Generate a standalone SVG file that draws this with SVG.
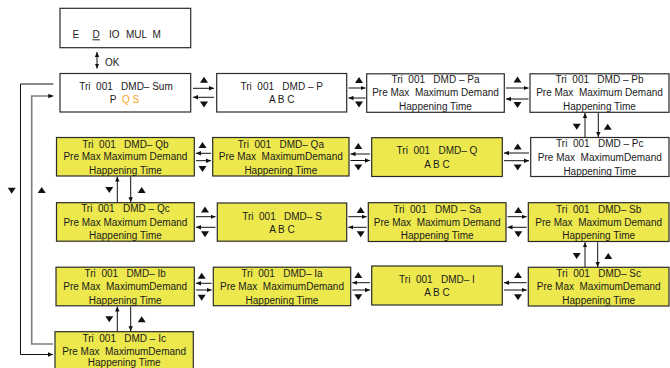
<svg xmlns="http://www.w3.org/2000/svg" width="670" height="368" viewBox="0 0 670 368">
<style>
.box{stroke:#2b2b2b;stroke-width:1.2}
.w{fill:#ffffff}
.y{fill:#ECE84E}
text{font-family:"Liberation Sans",Arial,sans-serif;font-size:10px;fill:#1a1a1a;text-anchor:middle}
.st{text-anchor:start}
.c line,.c polyline{stroke:#111;stroke-width:1;fill:none}
.c .g{stroke:#7d7d7d;stroke-width:1.6}
.tri{fill:#111}
</style>
<defs>
<path id="up" d="M-4,3 L4,3 L0,-3 Z"/>
<path id="dn" d="M-4,-3 L4,-3 L0,3 Z"/>
<marker id="ah" viewBox="0 0 8 8" refX="8" refY="4" markerWidth="5" markerHeight="5" orient="auto" markerUnits="userSpaceOnUse"><path d="M0,0.5 L8,4 L0,7.5 Z" fill="#111"/></marker>
<marker id="as" viewBox="0 0 8 8" refX="0" refY="4" markerWidth="5" markerHeight="5" orient="auto" markerUnits="userSpaceOnUse"><path d="M8,0.5 L0,4 L8,7.5 Z" fill="#111"/></marker>
</defs>

<g id="node-menu">
<rect class="box w" x="60" y="8.3" width="130.7" height="39.4"/>
<text class="st" x="72.5" y="38.3">E</text>
<text class="st" x="92.5" y="38.3" style="text-decoration:underline">D</text>
<text class="st" x="109" y="38.3">IO</text>
<text class="st" x="126" y="38.3">MUL</text>
<text class="st" x="152.5" y="38.3">M</text>
</g>
<text class="st" x="105" y="65.5">OK</text>

<g id="node-sum">
<rect class="box w" x="60" y="73.5" width="130.7" height="38.5"/>
<text x="126" y="89.8" xml:space="preserve">Tri  001   DMD– Sum</text>
<text x="124.5" y="103" xml:space="preserve">P  <tspan fill="#F5A623">Q S</tspan></text>
</g>
<g id="node-p">
<rect class="box w" x="216.7" y="73.5" width="130" height="38.5"/>
<text x="281.7" y="89.8" xml:space="preserve">Tri  001   DMD – P</text>
<text x="281.7" y="102.5">A B C</text>
</g>
<g id="node-pa">
<rect class="box w" x="366.7" y="73.8" width="137.6" height="38.5"/>
<text x="435.5" y="83.3" xml:space="preserve">Tri  001   DMD – Pa</text>
<text x="435.5" y="96.3" xml:space="preserve">Pre Max  Maximum Demand</text>
<text x="435.5" y="109.8">Happening Time</text>
</g>
<g id="node-pb">
<rect class="box w" x="530" y="73.8" width="139" height="38.5"/>
<text x="599.5" y="83.3" xml:space="preserve">Tri  001   DMD – Pb</text>
<text x="599.5" y="96.3" xml:space="preserve">Pre Max  Maximum Demand</text>
<text x="599.5" y="109.8">Happening Time</text>
</g>

<g id="node-qb">
<rect class="box y" x="56.5" y="137.5" width="137.8" height="38.5"/>
<text x="125.4" y="147.5" xml:space="preserve">Tri  001   DMD– Qb</text>
<text x="125.4" y="160.3" xml:space="preserve">Pre Max Maximum Demand</text>
<text x="125.4" y="173.5">Happening Time</text>
</g>
<g id="node-qa">
<rect class="box y" x="212.7" y="137.5" width="136.3" height="38.5"/>
<text x="280.8" y="147.5" xml:space="preserve">Tri  001   DMD– Qa</text>
<text x="280.8" y="160.3" xml:space="preserve">Pre Max  MaximumDemand</text>
<text x="280.8" y="173.5">Happening Time</text>
</g>
<g id="node-q">
<rect class="box y" x="371.7" y="137.7" width="130.6" height="38.8"/>
<text x="437" y="154" xml:space="preserve">Tri  001   DMD– Q</text>
<text x="437" y="167.5">A B C</text>
</g>
<g id="node-pc">
<rect class="box w" x="530.7" y="137.5" width="138.3" height="39"/>
<text x="599.8" y="147.3" xml:space="preserve">Tri  001   DMD – Pc</text>
<text x="599.8" y="160.8" xml:space="preserve">Pre Max  MaximumDemand</text>
<text x="599.8" y="174.8">Happening Time</text>
</g>

<g id="node-qc">
<rect class="box y" x="56.5" y="202.7" width="137.8" height="38.5"/>
<text x="125.4" y="212.2" xml:space="preserve">Tri  001   DMD – Qc</text>
<text x="125.4" y="225.5" xml:space="preserve">Pre Max Maximum Demand</text>
<text x="125.4" y="239">Happening Time</text>
</g>
<g id="node-s">
<rect class="box y" x="217.3" y="203" width="129.4" height="38.2"/>
<text x="282" y="219.5" xml:space="preserve">Tri  001   DMD– S</text>
<text x="282" y="232.5">A B C</text>
</g>
<g id="node-sa">
<rect class="box y" x="368.3" y="202.7" width="137.7" height="38.8"/>
<text x="437.2" y="212.5" xml:space="preserve">Tri  001   DMD – Sa</text>
<text x="437.2" y="225.8" xml:space="preserve">Pre Max  Maximum Demand</text>
<text x="437.2" y="239.3">Happening Time</text>
</g>
<g id="node-sb">
<rect class="box y" x="528.3" y="202.7" width="140.7" height="38.8"/>
<text x="598.7" y="212.5" xml:space="preserve">Tri  001   DMD– Sb</text>
<text x="598.7" y="225.8" xml:space="preserve">Pre Max  Maximum Demand</text>
<text x="598.7" y="239.3">Happening Time</text>
</g>

<g id="node-ib">
<rect class="box y" x="56" y="267.2" width="138.3" height="38.6"/>
<text x="125.2" y="276.8" xml:space="preserve">Tri  001   DMD– Ib</text>
<text x="125.2" y="290" xml:space="preserve">Pre Max  MaximumDemand</text>
<text x="125.2" y="303.5">Happening Time</text>
</g>
<g id="node-ia">
<rect class="box y" x="213.3" y="267.2" width="137.4" height="38.5"/>
<text x="282" y="276.8" xml:space="preserve">Tri  001   DMD– Ia</text>
<text x="282" y="290" xml:space="preserve">Pre Max  MaximumDemand</text>
<text x="282" y="303.5">Happening Time</text>
</g>
<g id="node-i">
<rect class="box y" x="371.7" y="266" width="130.6" height="39"/>
<text x="437" y="282.5" xml:space="preserve">Tri  001   DMD– I</text>
<text x="437" y="295.8">A B C</text>
</g>
<g id="node-sc">
<rect class="box y" x="528.3" y="267.3" width="140.7" height="38.7"/>
<text x="598.7" y="276.8" xml:space="preserve">Tri  001   DMD– Sc</text>
<text x="598.7" y="290.3" xml:space="preserve">Pre Max  MaximumDemand</text>
<text x="598.7" y="303.8">Happening Time</text>
</g>

<g id="node-ic">
<rect class="box y" x="55" y="331.7" width="138.3" height="39"/>
<text x="124.2" y="341.8" xml:space="preserve">Tri  001   DMD – Ic</text>
<text x="124.2" y="354.5" xml:space="preserve">Pre Max  MaximumDemand</text>
<text x="124.2" y="366">Happening Time</text>
</g>

<g id="connectors" class="c">
<line x1="97" y1="52" x2="97" y2="68.5" marker-start="url(#as)" marker-end="url(#ah)"/>

<line x1="193" y1="88.3" x2="214" y2="88.3" marker-end="url(#ah)"/>
<line x1="214" y1="97.3" x2="193" y2="97.3" marker-end="url(#ah)"/>
<line x1="348.5" y1="88" x2="365.5" y2="88" marker-end="url(#ah)"/>
<line x1="365.5" y1="98" x2="348.5" y2="98" marker-end="url(#ah)"/>
<line x1="506" y1="88" x2="528.5" y2="88" marker-end="url(#ah)"/>
<line x1="528.5" y1="99" x2="506" y2="99" marker-end="url(#ah)"/>

<line x1="211" y1="153.3" x2="196" y2="153.3" marker-end="url(#ah)"/>
<line x1="196" y1="160.7" x2="211" y2="160.7" marker-end="url(#ah)"/>
<line x1="370" y1="154" x2="350.5" y2="154" marker-end="url(#ah)"/>
<line x1="350.5" y1="160.5" x2="370" y2="160.5" marker-end="url(#ah)"/>
<line x1="529" y1="153" x2="504" y2="153" marker-end="url(#ah)"/>
<line x1="504" y1="160.7" x2="529" y2="160.7" marker-end="url(#ah)"/>

<line x1="196" y1="216.7" x2="215.5" y2="216.7" marker-end="url(#ah)"/>
<line x1="215.5" y1="227.3" x2="196" y2="227.3" marker-end="url(#ah)"/>
<line x1="348.3" y1="216.7" x2="366.7" y2="216.7" marker-end="url(#ah)"/>
<line x1="366.7" y1="227.3" x2="348.3" y2="227.3" marker-end="url(#ah)"/>
<line x1="507.5" y1="216.7" x2="526.7" y2="216.7" marker-end="url(#ah)"/>
<line x1="526.7" y1="227.3" x2="507.5" y2="227.3" marker-end="url(#ah)"/>

<line x1="211.7" y1="283.3" x2="196" y2="283.3" marker-end="url(#ah)"/>
<line x1="196" y1="290" x2="211.7" y2="290" marker-end="url(#ah)"/>
<line x1="370" y1="282.7" x2="352.3" y2="282.7" marker-end="url(#ah)"/>
<line x1="352.3" y1="290" x2="370" y2="290" marker-end="url(#ah)"/>
<line x1="526.7" y1="282.7" x2="504" y2="282.7" marker-end="url(#ah)"/>
<line x1="504" y1="290" x2="526.7" y2="290" marker-end="url(#ah)"/>

<line x1="585" y1="137" x2="585" y2="113" marker-end="url(#ah)"/>
<line x1="598.3" y1="113" x2="598.3" y2="137" marker-end="url(#ah)"/>
<line x1="117.3" y1="202.2" x2="117.3" y2="176.5" marker-end="url(#ah)"/>
<line x1="130.7" y1="176.5" x2="130.7" y2="202.2" marker-end="url(#ah)"/>
<line x1="585" y1="267" x2="585" y2="242.3" marker-end="url(#ah)"/>
<line x1="597.7" y1="242.3" x2="597.7" y2="267" marker-end="url(#ah)"/>
<line x1="117.3" y1="331.2" x2="117.3" y2="306.5" marker-end="url(#ah)"/>
<line x1="130.7" y1="306.5" x2="130.7" y2="331.2" marker-end="url(#ah)"/>

<polyline points="53.3,84 20.5,84 20.5,354.5 53,354.5" marker-end="url(#ah)"/>
<polyline class="g" points="53,344 31.7,344 31.7,96 53.3,96" marker-end="url(#ah)"/>

<use class="tri" href="#up" x="204" y="79.7"/>
<use class="tri" href="#dn" x="204" y="104.5"/>
<use class="tri" href="#up" x="359" y="80"/>
<use class="tri" href="#dn" x="359" y="104.5"/>
<use class="tri" href="#up" x="517.5" y="79.5"/>
<use class="tri" href="#dn" x="517.5" y="105"/>

<use class="tri" href="#up" x="202.5" y="145"/>
<use class="tri" href="#dn" x="202.5" y="169"/>
<use class="tri" href="#up" x="358.3" y="146"/>
<use class="tri" href="#dn" x="358.3" y="167.5"/>
<use class="tri" href="#up" x="517.7" y="146.5"/>
<use class="tri" href="#dn" x="517.7" y="167.5"/>

<use class="tri" href="#up" x="205" y="209.5"/>
<use class="tri" href="#dn" x="205" y="234.3"/>
<use class="tri" href="#up" x="360.7" y="210"/>
<use class="tri" href="#dn" x="360.7" y="234.3"/>
<use class="tri" href="#up" x="518.3" y="210"/>
<use class="tri" href="#dn" x="518.3" y="234.3"/>

<use class="tri" href="#up" x="201.7" y="275.7"/>
<use class="tri" href="#dn" x="201.7" y="297.7"/>
<use class="tri" href="#up" x="358.3" y="275"/>
<use class="tri" href="#dn" x="358.3" y="297.3"/>
<use class="tri" href="#up" x="518" y="275"/>
<use class="tri" href="#dn" x="518" y="297.3"/>

<use class="tri" href="#dn" x="576.7" y="126.7"/>
<use class="tri" href="#up" x="607.7" y="126.7"/>
<use class="tri" href="#dn" x="109.3" y="190"/>
<use class="tri" href="#up" x="141.7" y="190"/>
<use class="tri" href="#dn" x="576.7" y="256"/>
<use class="tri" href="#up" x="608.3" y="256"/>
<use class="tri" href="#dn" x="109.3" y="319.3"/>
<use class="tri" href="#up" x="141.7" y="319.3"/>

<use class="tri" href="#dn" x="11.7" y="190.7"/>
<use class="tri" href="#up" x="41.7" y="190"/>
</g>
</svg>
